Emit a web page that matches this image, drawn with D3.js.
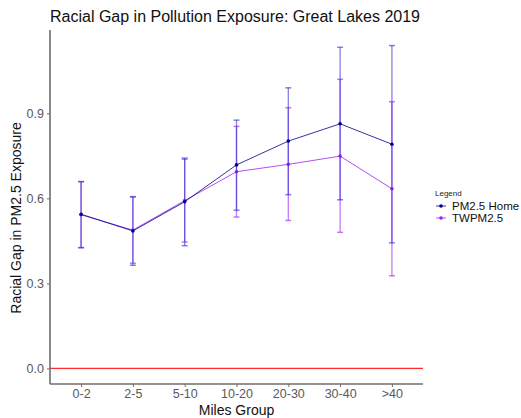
<!DOCTYPE html>
<html>
<head>
<meta charset="utf-8">
<script src="https://cdn.jsdelivr.net/npm/d3@7"></script>
<style>
  body { margin: 0; background: #fff; }
  svg { font-family: "Liberation Sans", Arial, sans-serif; }
</style>
</head>
<body>
<div id="chart"></div>
<script>
const width = 521;
const height = 418;

const groups = ["0-2", "2-5", "5-10", "10-20", "20-30", "30-40", ">40"];
const yTicks = [0, 0.3, 0.6, 0.9];

// PM2.5 Home: mean, lower, upper
const homeMean = [0.544, 0.485, 0.588, 0.718, 0.802, 0.863, 0.791];
const homeLow = [0.426, 0.364, 0.433, 0.558, 0.613, 0.595, 0.443];
const homeHigh = [0.659, 0.606, 0.742, 0.876, 0.990, 1.133, 1.139];

// TWPM2.5: mean, lower, upper
const twMean = [0.542, 0.488, 0.592, 0.694, 0.720, 0.749, 0.634];
const twLow = [0.426, 0.371, 0.446, 0.534, 0.522, 0.480, 0.327];
const twHigh = [0.659, 0.605, 0.738, 0.854, 0.920, 1.020, 0.941];

const series = [
	{ name: "TWPM2.5", mean: twMean, low: twLow, high: twHigh, line: "#A020F0", bar: "#A020F0" },
	{ name: "PM2.5 Home", mean: homeMean, low: homeLow, high: homeHigh, line: "#00008B", bar: "#3030d0" }
];

const margin = { top: 30, right: 98, bottom: 34, left: 50 };

const svg = d3
	.select("#chart")
	.append("svg")
	.attr("width", width)
	.attr("height", height);

const x = d3
	.scalePoint()
	.domain(groups)
	.range([margin.left, width - margin.right])
	.padding(0.6);

const y = d3
	.scaleLinear()
	.domain([-0.055, 1.194])
	.range([height - margin.bottom, margin.top]);

// title
svg.append("text")
	.attr("x", 50)
	.attr("y", 22)
	.style("font-size", "16px")
	.style("fill", "#111")
	.text("Racial Gap in Pollution Exposure: Great Lakes 2019");

// zero line
svg.append("line")
	.attr("x1", margin.left)
	.attr("x2", width - margin.right)
	.attr("y1", y(0))
	.attr("y2", y(0))
	.style("stroke", "#ff2a2a")
	.style("stroke-width", 1.2);

// axes
const yAxis = svg.append("g")
	.attr("transform", `translate(${margin.left},0)`)
	.call(d3.axisLeft(y).tickValues(yTicks).tickFormat(d3.format(".1f")).tickSize(3).tickPadding(3));

const xAxis = svg.append("g")
	.attr("transform", `translate(0,${height - margin.bottom})`)
	.call(d3.axisBottom(x).tickSize(3).tickPadding(2));

[yAxis, xAxis].forEach(a => {
	a.select(".domain").style("stroke", "#6e6e6e").style("stroke-width", 1.6);
	a.selectAll(".tick line").style("stroke", "#6e6e6e");
	a.selectAll(".tick text")
		.style("font-size", "12.5px")
		.style("fill", "#595959")
		.style("font-family", "Liberation Sans, Arial, sans-serif");
});
// extend axis domain lines to panel edges
yAxis.select(".domain").attr("d", `M0,${margin.top}V${height - margin.bottom}`);
xAxis.select(".domain").attr("d", `M${margin.left},0H${width - margin.right}`);

// axis labels
svg.append("text")
	.attr("x", (margin.left + width - margin.right) / 2)
	.attr("y", 415)
	.attr("text-anchor", "middle")
	.style("font-size", "14px")
	.style("fill", "#111")
	.text("Miles Group");

svg.append("text")
	.attr("transform", `translate(21,${(margin.top + height - margin.bottom) / 2 + 11}) rotate(-90)`)
	.attr("text-anchor", "middle")
	.style("font-size", "14px")
	.style("fill", "#111")
	.text("Racial Gap in PM2.5 Exposure");

// series
const cap = 3;
series.forEach(s => {
	const g = svg.append("g");

	g.selectAll("line.bar")
		.data(groups)
		.enter()
		.append("line")
		.attr("x1", d => x(d))
		.attr("x2", d => x(d))
		.attr("y1", (d, i) => y(s.low[i]))
		.attr("y2", (d, i) => y(s.high[i]))
		.style("stroke", s.bar)
		.style("stroke-opacity", 0.6)
		.style("stroke-width", 1.3);

	["low", "high"].forEach(k => {
		g.selectAll("line." + k)
			.data(groups)
			.enter()
			.append("line")
			.attr("x1", d => x(d) - cap)
			.attr("x2", d => x(d) + cap)
			.attr("y1", (d, i) => y(s[k][i]))
			.attr("y2", (d, i) => y(s[k][i]))
			.style("stroke", s.bar)
			.style("stroke-opacity", 0.6)
			.style("stroke-width", 1.5);
	});

	const line = d3.line()
		.x((d, i) => x(groups[i]))
		.y(d => y(d));

	g.append("path")
		.datum(s.mean)
		.attr("d", line)
		.style("fill", "none")
		.style("stroke", s.line)
		.style("stroke-opacity", 0.8)
		.style("stroke-width", 1);

	g.selectAll("circle")
		.data(s.mean)
		.enter()
		.append("circle")
		.attr("cx", (d, i) => x(groups[i]))
		.attr("cy", d => y(d))
		.attr("r", 1.8)
		.style("fill", s.line);
});

// legend
const legend = svg.append("g").attr("transform", "translate(435,0)");
legend.append("text")
	.attr("x", 0)
	.attr("y", 196)
	.style("font-size", "8px")
	.style("fill", "#222")
	.text("Legend");

const legendItems = [series[1], series[0]];
legendItems.forEach((s, i) => {
	const cy = 206 + i * 12;
	legend.append("line")
		.attr("x1", 1)
		.attr("x2", 11)
		.attr("y1", cy)
		.attr("y2", cy)
		.style("stroke", s.line)
		.style("stroke-opacity", 0.8)
		.style("stroke-width", 1);
	legend.append("circle")
		.attr("cx", 6)
		.attr("cy", cy)
		.attr("r", 1.8)
		.style("fill", s.line);
	legend.append("text")
		.attr("x", 17)
		.attr("y", cy + 4)
		.style("font-size", "11.5px")
		.style("fill", "#111")
		.text(s.name);
});
</script>
</body>
</html>
